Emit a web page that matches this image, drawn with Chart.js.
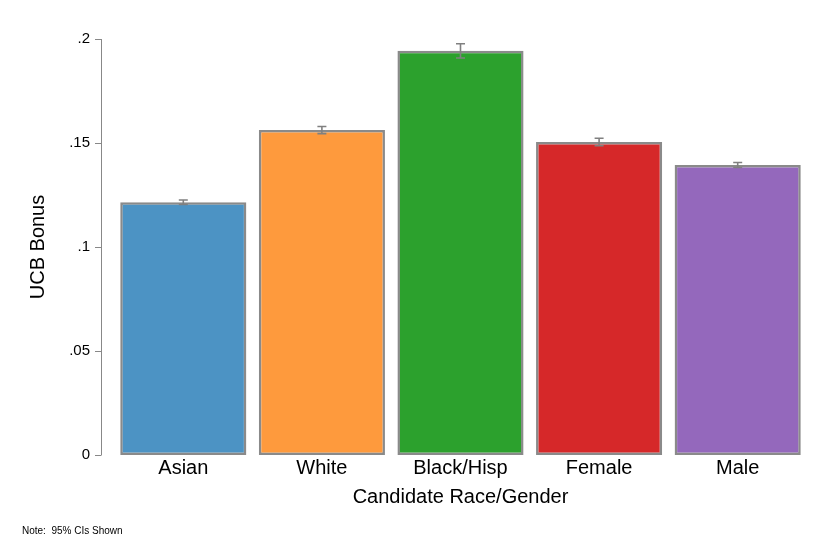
<!DOCTYPE html>
<html>
<head>
<meta charset="utf-8">
<script src="https://cdn.jsdelivr.net/npm/chart.js@4.4.1/dist/chart.umd.min.js"></script>
<style>
  html, body { margin: 0; padding: 0; background: #fff; }
  #wrap { width: 840px; height: 560px; position: relative; }
</style>
</head>
<body>
<div id="wrap"><canvas id="chart"></canvas></div>
<script>
// データ
const categories = ['Asian', 'White', 'Black/Hisp', 'Female', 'Male'];
const bonus = [0.1215, 0.1562, 0.1943, 0.1505, 0.1394];
const ciHalf = [0.0011, 0.0017, 0.0034, 0.0018, 0.0012];
const yTicks = [0, 0.05, 0.1, 0.15, 0.2];
const yTickLabels = ['0', '.05', '.1', '.15', '.2'];

const barColors = ['#4c93c4', '#fe9a3d', '#2ca12d', '#d62829', '#9468bc'];
const gray = '#8a8a8a';
const font = "'Liberation Sans', Arial, Helvetica, sans-serif";

Chart.defaults.font.family = font;
Chart.defaults.color = '#000';

// y軸の線と目盛り (プロット領域から少し左に離して描く)
const yAxisGap = 13;
const yAxisPlugin = {
    id: 'yAxisLine',
    afterDraw(chart) {
        const ctx = chart.ctx;
        const y = chart.scales.y;
        const x0 = Math.round(chart.chartArea.left - yAxisGap);
        ctx.save();
        ctx.strokeStyle = '#888';
        ctx.lineWidth = 1;
        ctx.beginPath();
        ctx.moveTo(x0 + 0.5, y.getPixelForValue(yTicks[yTicks.length - 1]));
        ctx.lineTo(x0 + 0.5, y.getPixelForValue(0));
        yTicks.forEach(v => {
            const py = Math.round(y.getPixelForValue(v)) + 0.5;
            ctx.moveTo(x0 + 0.5, py);
            ctx.lineTo(x0 - 6, py);
        });
        ctx.stroke();
        ctx.restore();
    }
};

// 95%信頼区間のエラーバー
const errorBarPlugin = {
    id: 'errorBars',
    afterDatasetsDraw(chart) {
        const ctx = chart.ctx;
        const y = chart.scales.y;
        const meta = chart.getDatasetMeta(0);
        ctx.save();
        ctx.strokeStyle = '#808080';
        ctx.lineWidth = 1.6;
        meta.data.forEach((bar, i) => {
            const top = y.getPixelForValue(bonus[i] + ciHalf[i]);
            const bot = y.getPixelForValue(bonus[i] - ciHalf[i]);
            const cx = bar.x;
            ctx.beginPath();
            ctx.moveTo(cx, top);
            ctx.lineTo(cx, bot);
            ctx.moveTo(cx - 4.5, top);
            ctx.lineTo(cx + 4.5, top);
            ctx.moveTo(cx - 4.5, bot);
            ctx.lineTo(cx + 4.5, bot);
            ctx.stroke();
        });
        ctx.restore();
    }
};

new Chart(document.getElementById('chart'), {
    type: 'bar',
    data: {
        labels: categories,
        datasets: [{
            data: bonus,
            backgroundColor: barColors,
            borderColor: gray,
            borderWidth: 2.5,
            borderSkipped: false,
            categoryPercentage: 1,
            barPercentage: 0.91
        }]
    },
    options: {
        responsive: true,
        maintainAspectRatio: false,
        animation: false,
        layout: {
            padding: { top: 39, right: 33, bottom: 9, left: 22 }
        },
        plugins: {
            legend: { display: false },
            tooltip: { enabled: false },
            subtitle: {
                display: true,
                text: 'Note:  95% CIs Shown',
                position: 'bottom',
                align: 'start',
                font: { size: 10 },
                color: '#000',
                padding: { top: 16, bottom: 14 }
            }
        },
        scales: {
            x: {
                grid: { display: false, drawTicks: false, tickLength: 0 },
                border: { display: false },
                ticks: {
                    font: { size: 20 },
                    color: '#000',
                    padding: 1,
                    maxRotation: 0
                },
                title: {
                    display: true,
                    text: 'Candidate Race/Gender',
                    font: { size: 20 },
                    color: '#000',
                    padding: { top: 4, bottom: 0 }
                }
            },
            y: {
                min: 0,
                max: 0.2,
                afterBuildTicks(scale) {
                    scale.ticks = yTicks.map(v => ({ value: v }));
                },
                afterFit(scale) {
                    scale.width = 92;
                },
                grid: { display: false, drawTicks: false, tickLength: 0 },
                border: { display: false },
                ticks: {
                    font: { size: 15 },
                    color: '#000',
                    padding: 24,
                    callback: (v) => yTickLabels[yTicks.indexOf(v)] ?? ''
                },
                title: {
                    display: true,
                    text: 'UCB Bonus',
                    font: { size: 20 },
                    color: '#000',
                    padding: { top: 4, bottom: 0 }
                }
            }
        }
    },
    plugins: [yAxisPlugin, errorBarPlugin]
});
</script>
</body>
</html>
